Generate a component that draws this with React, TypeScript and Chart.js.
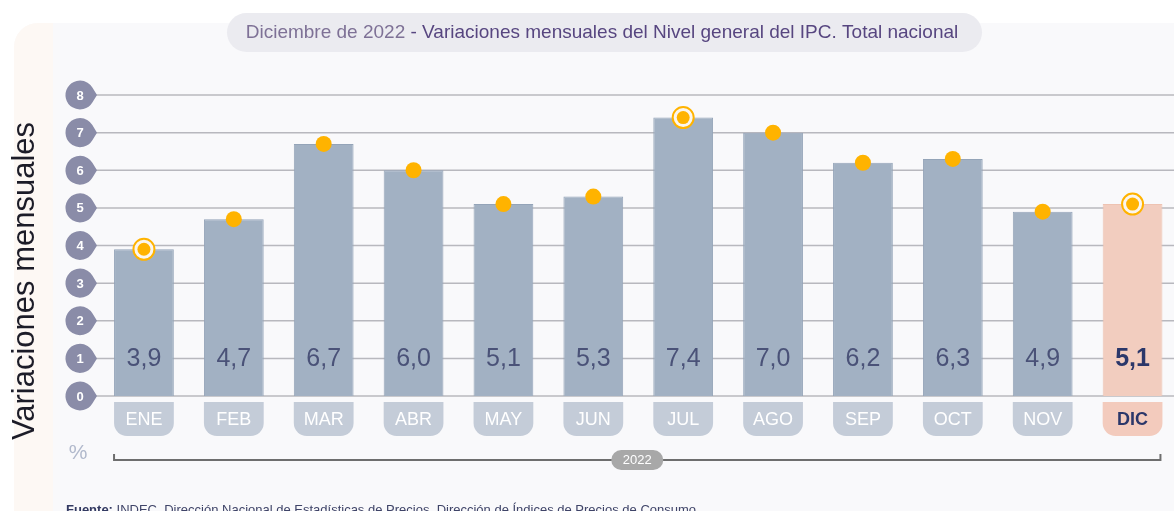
import React, { useEffect, useRef } from "react";
import { Chart, registerables } from "chart.js";

Chart.register(...registerables);

const categories = ["ENE", "FEB", "MAR", "ABR", "MAY", "JUN", "JUL", "AGO", "SEP", "OCT", "NOV", "DIC"];
const values = [3.9, 4.7, 6.7, 6.0, 5.1, 5.3, 7.4, 7.0, 6.2, 6.3, 4.9, 5.1];
const ringValues = [3.9, null, null, null, null, null, 7.4, null, null, null, null, 5.1];
const yTicks = [0, 1, 2, 3, 4, 5, 6, 7, 8];
const yearLabel = "2022";
const titleLight = "Diciembre de 2022";
const titleDark = " - Variaciones mensuales del Nivel general del IPC. Total nacional";
const yAxisTitle = "Variaciones mensuales";
const unitLabel = "%";
const sourceBold = "Fuente:";
const sourceText = " INDEC, Dirección Nacional de Estadísticas de Precios, Dirección de Índices de Precios de Consumo.";

const FONT = "'Liberation Sans', Arial, Helvetica, sans-serif";
const lastIdx = categories.length - 1;
const BAR_DS = 2;

const decorPlugin = {
  id: "decor",
  beforeDraw(chart: any) {
    const ctx = chart.ctx as CanvasRenderingContext2D;
    const W = chart.width;
    const H = chart.height;
    const x = chart.scales.x;
    const y = chart.scales.y;
    ctx.save();
    ctx.fillStyle = "#ffffff";
    ctx.fillRect(0, 0, W, H);
    ctx.beginPath();
    ctx.roundRect(14, 23, W, H + 40, [24, 0, 0, 0]);
    ctx.fillStyle = "#f9f9fb";
    ctx.fill();
    ctx.save();
    ctx.clip();
    ctx.fillStyle = "#fdf8f4";
    ctx.fillRect(14, 23, 39, H);
    ctx.restore();

    // title pill
    ctx.beginPath();
    ctx.roundRect(227, 13, 755, 39, 19.5);
    ctx.fillStyle = "#ebebf0";
    ctx.fill();
    ctx.font = `19px ${FONT}`;
    ctx.textBaseline = "middle";
    ctx.textAlign = "left";
    const w1 = ctx.measureText(titleLight).width;
    const w2 = ctx.measureText(titleDark).width;
    const tx = 602 - (w1 + w2) / 2;
    ctx.fillStyle = "#7e7196";
    ctx.fillText(titleLight, tx, 33);
    ctx.fillStyle = "#574680";
    ctx.fillText(titleDark, tx + w1, 33);

    // vertical axis title
    ctx.save();
    ctx.translate(34, 281);
    ctx.rotate(-Math.PI / 2);
    ctx.font = `31px ${FONT}`;
    ctx.fillStyle = "#1c1c28";
    ctx.textAlign = "center";
    ctx.textBaseline = "alphabetic";
    ctx.fillText(yAxisTitle, 0, 0);
    ctx.restore();

    // gridlines + badges
    yTicks.forEach((t) => {
      const py = y.getPixelForValue(t);
      ctx.beginPath();
      ctx.moveTo(96, py);
      ctx.lineTo(W, py);
      ctx.strokeStyle = "#b8b8be";
      ctx.lineWidth = 1.5;
      ctx.stroke();
      const cx = 80, r = 14.5, tip = 97;
      const th = Math.acos(r / (tip - cx));
      ctx.beginPath();
      ctx.arc(cx, py, r, th, 2 * Math.PI - th);
      ctx.lineTo(tip, py);
      ctx.closePath();
      ctx.fillStyle = "#8a8ca8";
      ctx.fill();
      ctx.fillStyle = "#ffffff";
      ctx.font = `bold 13px ${FONT}`;
      ctx.textAlign = "center";
      ctx.textBaseline = "middle";
      ctx.fillText(String(t), cx, py + 1);
    });

    // category tabs
    const meta = chart.getDatasetMeta(BAR_DS);
    const barW = (i: number) => {
      const b = meta.data[i] as any;
      return b && isFinite(b.width) ? b.width : 60;
    };
    categories.forEach((c, i) => {
      const bw = barW(i);
      const cx = x.getPixelForValue(i);
      const isLast = i === lastIdx;
      ctx.beginPath();
      ctx.roundRect(cx - bw / 2, 402, bw, 34, [0, 0, 13, 13]);
      ctx.fillStyle = isLast ? "#f3cbbd" : "#c4ccd8";
      ctx.fill();
      ctx.fillStyle = isLast ? "#2b376a" : "#ffffff";
      ctx.font = `${isLast ? "bold " : ""}18px ${FONT}`;
      ctx.textAlign = "center";
      ctx.textBaseline = "middle";
      ctx.fillText(c, cx, 420);
    });

    // year bracket
    const bx1 = x.getPixelForValue(0) - barW(0) / 2;
    const bx2 = x.getPixelForValue(lastIdx) + barW(lastIdx) / 2 - 2;
    ctx.beginPath();
    ctx.moveTo(bx1, 454);
    ctx.lineTo(bx1, 460);
    ctx.lineTo(bx2, 460);
    ctx.lineTo(bx2, 454);
    ctx.strokeStyle = "#6e6e6e";
    ctx.lineWidth = 2;
    ctx.stroke();
    const mx = (bx1 + bx2) / 2;
    ctx.beginPath();
    ctx.roundRect(mx - 26, 450, 52, 20, 10);
    ctx.fillStyle = "#a8a8a8";
    ctx.fill();
    ctx.fillStyle = "#ffffff";
    ctx.font = `13px ${FONT}`;
    ctx.textAlign = "center";
    ctx.textBaseline = "middle";
    ctx.fillText(yearLabel, mx, 460.5);

    // unit
    ctx.fillStyle = "#b1b9cc";
    ctx.font = `21px ${FONT}`;
    ctx.fillText(unitLabel, 78, 453);

    // source
    ctx.textAlign = "left";
    ctx.textBaseline = "alphabetic";
    ctx.font = `bold 13px ${FONT}`;
    ctx.fillStyle = "#333a62";
    ctx.fillText(sourceBold, 66, 513.5);
    const sw = ctx.measureText(sourceBold).width;
    ctx.font = `13px ${FONT}`;
    ctx.fillStyle = "#3f4468";
    ctx.fillText(sourceText, 66 + sw, 513.5);
    ctx.restore();
  },
  afterDatasetsDraw(chart: any) {
    const ctx = chart.ctx as CanvasRenderingContext2D;
    const x = chart.scales.x;
    const y = chart.scales.y;
    ctx.save();
    values.forEach((v, i) => {
      const isLast = i === lastIdx;
      ctx.font = `${isLast ? "bold " : ""}25px ${FONT}`;
      ctx.fillStyle = isLast ? "#2b376a" : "#4a5278";
      ctx.textAlign = "center";
      ctx.textBaseline = "middle";
      ctx.fillText(v.toFixed(1).replace(".", ","), x.getPixelForValue(i), y.getPixelForValue(1) + 1);
    });
    ctx.restore();
  },
};

export default function App() {
  const ref = useRef<HTMLCanvasElement>(null);
  useEffect(() => {
    if (!ref.current) return;
    const chart = new Chart(ref.current, {
      type: "bar",
      data: {
        labels: categories,
        datasets: [
          {
            type: "line",
            label: "dots",
            data: values,
            showLine: false,
            pointRadius: values.map((_, i) => (ringValues[i] != null ? 6.5 : 8)),
            pointBackgroundColor: "#ffb300",
            pointBorderWidth: 0,
            order: 0,
          } as any,
          {
            type: "line",
            label: "rings",
            data: ringValues,
            showLine: false,
            pointRadius: 10.5,
            pointBackgroundColor: "#fbf6ee",
            pointBorderColor: "#ffb300",
            pointBorderWidth: 2,
            order: 1,
          } as any,
          {
            type: "bar",
            label: "IPC",
            data: values,
            backgroundColor: values.map((_, i) => (i === lastIdx ? "#f2cdbf" : "#a2b1c3")),
            borderColor: values.map((_, i) => (i === lastIdx ? "#eec3b2" : "#94a4b8")),
            borderWidth: 1,
            barPercentage: 0.665,
            categoryPercentage: 1,
            order: 2,
          },
        ],
      },
      options: {
        responsive: false,
        animation: false,
        devicePixelRatio: 1,
        layout: { padding: { left: 99, right: 8, top: 95, bottom: 115 } },
        plugins: { legend: { display: false }, tooltip: { enabled: false }, title: { display: false } },
        scales: {
          x: { display: false, offset: true },
          y: { display: false, min: 0, max: 8 },
        },
      },
      plugins: [decorPlugin],
    });
    return () => chart.destroy();
  }, []);
  return (
    <div style={{ position: "fixed", left: 0, top: 0, width: 1174, height: 511, overflow: "hidden", background: "#fff" }}>
      <canvas ref={ref} width={1190} height={511} style={{ width: 1190, height: 511, display: "block" }} />
    </div>
  );
}
